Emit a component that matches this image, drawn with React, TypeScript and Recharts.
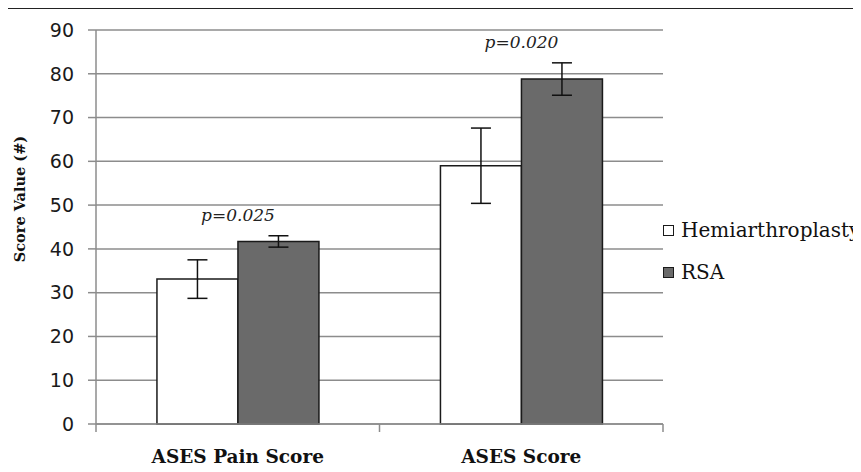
import React from 'react';
import {
  BarChart,
  Bar,
  XAxis,
  YAxis,
  CartesianGrid,
  ErrorBar,
  LabelList,
  Label,
} from 'recharts';

// Outcome scores by procedure
const categories = ['ASES Pain Score', 'ASES Score'];
const hemiValues = [33.1, 59.0];
const hemiErrors = [4.4, 8.6];
const rsaValues = [41.7, 78.8];
const rsaErrors = [1.3, 3.7];
const pValues = ['p=0.025', 'p=0.020'];
const yTicks = [0, 10, 20, 30, 40, 50, 60, 70, 80, 90];

const seriesNames = { hemi: 'Hemiarthroplasty', rsa: 'RSA' };
const HEMI_FILL = '#ffffff';
const RSA_FILL = '#6a6a6a';
const EDGE = '#1a1a1a';
const GRID = '#8c8c8c';
const SERIF = '"DejaVu Serif", serif';
const SANS = '"DejaVu Sans", sans-serif';

const data = categories.map((name, i) => ({
  name,
  hemi: hemiValues[i],
  hemiErr: hemiErrors[i],
  rsa: rsaValues[i],
  rsaErr: rsaErrors[i],
  p: pValues[i],
}));

// Category label plus tick marks on the category boundaries
const CategoryTick = (props: any) => {
  const { x, y, width, visibleTicksCount, index, payload } = props;
  const band = width / visibleTicksCount;
  const left = x - band / 2;
  const right = x + band / 2;
  const isLast = index === visibleTicksCount - 1;
  return (
    <g>
      <line x1={left} x2={left} y1={y} y2={y + 8} stroke={GRID} strokeWidth={1.5} />
      {isLast && <line x1={right} x2={right} y1={y} y2={y + 8} stroke={GRID} strokeWidth={1.5} />}
      <text
        x={x}
        y={y + 39}
        textAnchor="middle"
        fontFamily={SERIF}
        fontWeight="bold"
        fontSize={18.5}
        fill="#111"
      >
        {payload.value}
      </text>
    </g>
  );
};

// Significance note above the RSA error bar
const PLabel = (props: any) => {
  const { x, y, height, index } = props;
  const row = data[index];
  const perUnit = height / row.rsa;
  const errTop = y - row.rsaErr * perUnit;
  return (
    <text
      x={x}
      y={errTop - 15}
      textAnchor="middle"
      fontFamily={SERIF}
      fontStyle="italic"
      fontSize={17}
      fill="#222"
    >
      {row.p}
    </text>
  );
};

const legendItems = [
  { label: seriesNames.hemi, fill: HEMI_FILL },
  { label: seriesNames.rsa, fill: RSA_FILL },
];

const SeriesLegend = () => (
  <div
    style={{
      position: 'absolute',
      left: 663,
      top: 218,
      display: 'flex',
      flexDirection: 'column',
      gap: 18,
    }}
  >
    {legendItems.map((it) => (
      <div key={it.label} style={{ display: 'flex', alignItems: 'center', height: 24 }}>
        <span
          style={{
            display: 'inline-block',
            width: 9,
            height: 9,
            background: it.fill,
            border: `1.5px solid ${EDGE}`,
            marginRight: 7,
          }}
        />
        <span style={{ fontFamily: SERIF, fontSize: 20, color: '#111', whiteSpace: 'nowrap' }}>
          {it.label}
        </span>
      </div>
    ))}
  </div>
);

export default function App() {
  return (
    <div style={{ margin: -8, position: 'relative', width: 861, height: 472, background: '#fff', overflow: 'hidden' }}>
      <div style={{ position: 'absolute', left: 0, right: 0, top: 7, height: 2, background: '#222' }} />
      <BarChart
        width={861}
        height={472}
        data={data}
        margin={{ top: 30, right: 198, bottom: 0, left: 0 }}
        barCategoryGap="21.5%"
        barGap={0}
      >
        <CartesianGrid vertical={false} stroke={GRID} strokeWidth={1.5} />
        <XAxis
          dataKey="name"
          height={48}
          tickSize={0}
          tickMargin={0}
          axisLine={{ stroke: GRID, strokeWidth: 1.5 }}
          tickLine={false}
          tick={<CategoryTick />}
          interval={0}
        />
        <YAxis
          width={96}
          domain={[0, 90]}
          ticks={yTicks}
          interval={0}
          tickSize={8}
          tickMargin={14}
          axisLine={{ stroke: GRID, strokeWidth: 1.5 }}
          tickLine={{ stroke: GRID, strokeWidth: 1.5 }}
          tick={{ fontFamily: SANS, fontSize: 19, fill: '#1a1a1a' }}
        >
          <Label
            content={(p: any) => {
              const vb = p.viewBox;
              const cx = vb.x + 19;
              const cy = vb.y + vb.height / 2 - 28;
              return (
                <text
                  x={cx}
                  y={cy}
                  transform={`rotate(-90 ${cx} ${cy})`}
                  textAnchor="middle"
                  dominantBaseline="central"
                  fontFamily={SERIF}
                  fontWeight="bold"
                  fontSize={14.5}
                  fill="#111"
                >
                  Score Value (#)
                </text>
              );
            }}
          />
        </YAxis>
        <Bar dataKey="hemi" name={seriesNames.hemi} fill={HEMI_FILL} stroke={EDGE} strokeWidth={1.5} isAnimationActive={false}>
          <ErrorBar dataKey="hemiErr" width={10} stroke="#111" strokeWidth={1.5} direction="y" isAnimationActive={false} />
        </Bar>
        <Bar dataKey="rsa" name={seriesNames.rsa} fill={RSA_FILL} stroke={EDGE} strokeWidth={1.5} isAnimationActive={false}>
          <ErrorBar dataKey="rsaErr" width={10} stroke="#111" strokeWidth={1.5} direction="y" isAnimationActive={false} />
          <LabelList dataKey="p" content={<PLabel />} />
        </Bar>
      </BarChart>
      <SeriesLegend />
    </div>
  );
}
